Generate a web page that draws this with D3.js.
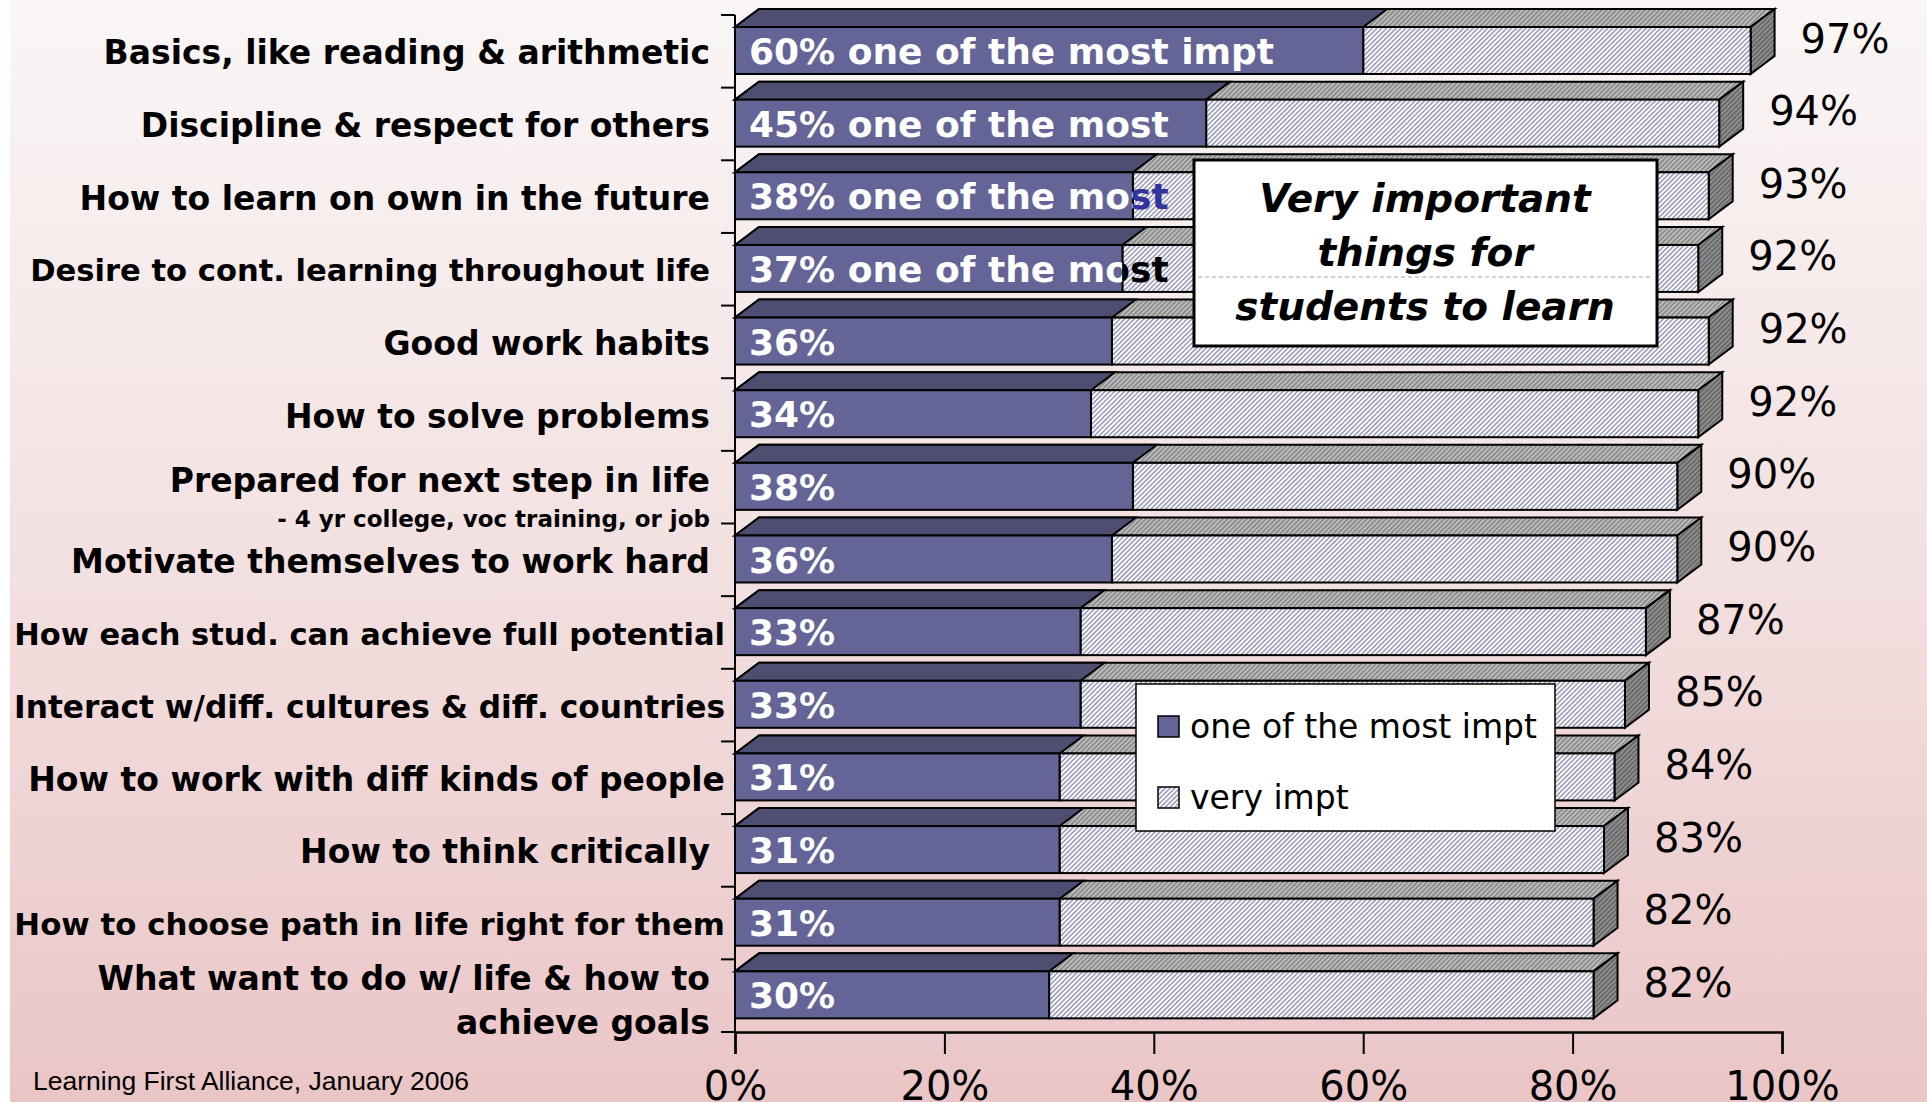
<!DOCTYPE html>
<html>
<head>
<meta charset="utf-8">
<script src="https://cdn.jsdelivr.net/npm/d3@7"></script>
<style>
  html, body { margin: 0; padding: 0; background: #fff; }
  svg { display: block; }
</style>
</head>
<body>
<svg id="chart"></svg>
<script>

// categories, top to bottom; "\n" splits a label over two lines
const categories = [
    "Basics, like reading & arithmetic",
    "Discipline & respect for others",
    "How to learn on own in the future",
    "Desire to cont. learning throughout life",
    "Good work habits",
    "How to solve problems",
    "Prepared for next step in life\n- 4 yr college, voc training, or job",
    "Motivate themselves to work hard",
    "How each stud. can achieve full potential",
    "Interact w/diff. cultures & diff. countries",
    "How to work with diff kinds of people",
    "How to think critically",
    "How to choose path in life right for them",
    "What want to do w/ life & how to\nachieve goals"
];

// "one of the most impt" share (dark part of the bar)
const mostImpt = [60, 45, 38, 37, 36, 34, 38, 36, 33, 33, 31, 31, 31, 30];

// total "very impt" (end of the bar)
const veryImpt = [97, 94, 93, 92, 93, 92, 90, 90, 87, 85, 84, 83, 82, 82];

// printed totals at the bar ends
const totalLabels = ["97%", "94%", "93%", "92%", "92%", "92%", "90%", "90%", "87%", "85%", "84%", "83%", "82%", "82%"];

// extra words written after the % inside the dark part
const barSuffix = ["one of the most impt", "one of the most", "one of the most", "one of the most",
    "", "", "", "", "", "", "", "", "", ""];

const xTicks = [0, 20, 40, 60, 80, 100];
const legendLabels = ["one of the most impt", "very impt"];
const titleLines = ["Very important", "things for", "students to learn"];
const source = "Learning First Alliance, January 2006";

let svgWidth = 1927;
let svgHeight = 1102;
let depthX = 24, depthY = 18;   // 3d offset of the bars
let faceTop = 12, faceH = 47;   // front face inside each band
let wideRows = new Set([8, 9, 10, 12]);   // these labels sit a bit further right

let svg = d3.select("#chart")
    .attr("width", svgWidth)
    .attr("height", svgHeight);

let defs = svg.append("defs");

let grad = defs.append("linearGradient")
    .attr("id", "bg")
    .attr("x1", 0).attr("y1", 0).attr("x2", 0).attr("y2", 1);
grad.append("stop").attr("offset", "0%").attr("stop-color", "#faf6f6");
grad.append("stop").attr("offset", "50%").attr("stop-color", "#f3e1e1");
grad.append("stop").attr("offset", "100%").attr("stop-color", "#eac5c6");

function hatch(id, bg, fg, w) {
    let p = defs.append("pattern")
        .attr("id", id)
        .attr("patternUnits", "userSpaceOnUse")
        .attr("width", 3.4).attr("height", 10)
        .attr("patternTransform", "rotate(45)");
    p.append("rect").attr("width", 3.4).attr("height", 10).attr("fill", bg);
    p.append("line")
        .attr("x1", 0.8).attr("y1", 0).attr("x2", 0.8).attr("y2", 10)
        .attr("stroke", fg).attr("stroke-width", w);
}
hatch("hFront", "#ffffff", "#8585ad", 1.3);
hatch("hTop", "#bdbdbd", "#7c7c7c", 1.3);
hatch("hSide", "#8f8f8f", "#5c5c5c", 1.3);

svg.append("rect")
    .attr("x", 10).attr("y", 0)
    .attr("width", svgWidth - 10).attr("height", svgHeight)
    .attr("fill", "url(#bg)");

let xScale = d3.scaleLinear().domain([0, 100]).range([735, 1782]);
let yScale = d3.scaleBand().domain(d3.range(categories.length)).range([15, 1032]);

let rows = categories.map((c, i) => ({
    i: i,
    label: c,
    most: mostImpt[i],
    total: veryImpt[i],
    totalLabel: totalLabels[i],
    text: mostImpt[i] + "%" + (barSuffix[i] ? " " + barSuffix[i] : "")
}));

function topFace(x0, x1, y) {
    return `M${x0},${y}L${x0 + depthX},${y - depthY}L${x1 + depthX},${y - depthY}L${x1},${y}Z`;
}
function sideFace(x1, y) {
    return `M${x1},${y}L${x1 + depthX},${y - depthY}L${x1 + depthX},${y + faceH - depthY}L${x1},${y + faceH}Z`;
}

let bars = svg.append("g").attr("class", "bars");

rows.forEach(d => {
    let g = bars.append("g");
    let y0 = yScale(d.i) + faceTop;
    let xa = xScale(0), xm = xScale(d.most), xt = xScale(d.total);

    g.append("path").attr("d", topFace(xa, xt, y0))
        .attr("fill", "url(#hTop)").attr("stroke", "#000").attr("stroke-width", 2);
    g.append("path").attr("d", topFace(xa, xm, y0))
        .attr("fill", "#4e4e72").attr("stroke", "#000").attr("stroke-width", 2);
    g.append("path").attr("d", sideFace(xt, y0))
        .attr("fill", "url(#hSide)").attr("stroke", "#000").attr("stroke-width", 2);
    g.append("rect")
        .attr("x", xm).attr("y", y0).attr("width", xt - xm).attr("height", faceH)
        .attr("fill", "url(#hFront)").attr("stroke", "#000").attr("stroke-width", 2);
    g.append("rect")
        .attr("x", xa).attr("y", y0).attr("width", xm - xa).attr("height", faceH)
        .attr("fill", "#646497").attr("stroke", "#000").attr("stroke-width", 2);

    // text inside the bar: white over the dark part, coloured where it runs past
    let clipIn = defs.append("clipPath").attr("id", "cin" + d.i);
    clipIn.append("rect").attr("x", xa).attr("y", y0).attr("width", xm - xa).attr("height", faceH);
    let clipOut = defs.append("clipPath").attr("id", "cout" + d.i);
    clipOut.append("rect").attr("x", xm).attr("y", y0).attr("width", svgWidth).attr("height", faceH);

    let overColor = d.i === 2 ? "#33339c" : "#000";
    [["cin", "#fff"], ["cout", overColor]].forEach(([c, col]) => {
        g.append("text")
            .attr("clip-path", `url(#${c}${d.i})`)
            .attr("x", xa + 14)
            .attr("y", y0 + faceH - 10)
            .attr("font-family", "'DejaVu Sans', sans-serif")
            .attr("font-weight", "bold")
            .attr("font-size", 36)
            .attr("fill", col)
            .text(d.text);
    });

    g.append("text")
        .attr("x", xt + depthX + 26)
        .attr("y", y0 + faceH / 2 + 2)
        .attr("font-family", "'DejaVu Sans', sans-serif")
        .attr("font-size", 40)
        .attr("fill", "#000")
        .text(d.totalLabel);
});

// category labels
let labels = svg.append("g").attr("class", "labels");
rows.forEach(d => {
    let cy = yScale(d.i) + faceTop + faceH / 2;
    let lines = d.label.split("\n");
    let anchorX = wideRows.has(d.i) ? 725 : 710;
    let room = wideRows.has(d.i) ? 711 : 680;
    let offsets = lines.length === 1 ? [2] : (lines[1].startsWith("-") ? [-6, 32] : [-17, 27]);
    lines.forEach((ln, k) => {
        let small = ln.startsWith("-");
        let size = small ? 23 : 33;
        let t = labels.append("text")
            .attr("x", anchorX)
            .attr("y", cy + offsets[k])
            .attr("dy", "0.36em")
            .attr("text-anchor", "end")
            .attr("font-family", "'DejaVu Sans', sans-serif")
            .attr("font-weight", "bold")
            .attr("font-size", size)
            .attr("fill", "#000")
            .text(ln);
        let w = t.node().getComputedTextLength();
        if (w > room) t.attr("font-size", size * room / w);
    });
});

// y axis with ticks on the band edges
let yAxis = svg.append("g").attr("class", "y axis");
yAxis.append("line")
    .attr("x1", xScale(0)).attr("x2", xScale(0))
    .attr("y1", yScale.range()[0]).attr("y2", yScale.range()[1])
    .attr("stroke", "#000").attr("stroke-width", 2);
yAxis.selectAll("line.tick")
    .data(d3.range(categories.length + 1))
    .join("line")
    .attr("class", "tick")
    .attr("x1", xScale(0) - 14).attr("x2", xScale(0))
    .attr("y1", i => yScale.range()[0] + i * yScale.step())
    .attr("y2", i => yScale.range()[0] + i * yScale.step())
    .attr("stroke", "#000").attr("stroke-width", 2);

// x axis
let xAxis = svg.append("g")
    .attr("class", "x axis")
    .attr("transform", `translate(0,${yScale.range()[1]})`)
    .call(d3.axisBottom(xScale)
        .tickValues(xTicks)
        .tickFormat(v => v + "%")
        .tickSizeOuter(0)
        .tickSize(22)
        .tickPadding(18));
xAxis.select(".domain").attr("stroke", "#000").attr("stroke-width", 2.5);
xAxis.selectAll(".tick line").attr("stroke", "#000").attr("stroke-width", 2);
xAxis.selectAll(".tick text")
    .attr("font-family", "'DejaVu Sans', sans-serif")
    .attr("font-size", 40)
    .attr("fill", "#000");

// title box
let tb = svg.append("g").attr("class", "title");
tb.append("rect")
    .attr("x", 1194).attr("y", 160).attr("width", 463).attr("height", 186)
    .attr("fill", "#fff").attr("stroke", "#000").attr("stroke-width", 3);
tb.append("line")
    .attr("x1", 1198).attr("x2", 1653).attr("y1", 277).attr("y2", 277)
    .attr("stroke", "#a0a0c0").attr("stroke-width", 1).attr("stroke-dasharray", "4,3");
tb.selectAll("text")
    .data(titleLines)
    .join("text")
    .attr("x", 1425)
    .attr("y", (d, i) => 212 + i * 54)
    .attr("text-anchor", "middle")
    .attr("font-family", "'DejaVu Sans', sans-serif")
    .attr("font-weight", "bold")
    .attr("font-style", "italic")
    .attr("font-size", 39)
    .attr("fill", "#000")
    .text(d => d);

// legend
let lg = svg.append("g").attr("class", "legend");
lg.append("rect")
    .attr("x", 1136).attr("y", 684).attr("width", 419).attr("height", 147)
    .attr("fill", "#fff").attr("stroke", "#000").attr("stroke-width", 1.5);
let swatches = ["#646497", "url(#hFront)"];
legendLabels.forEach((l, i) => {
    let yy = 716 + i * 71;
    lg.append("rect")
        .attr("x", 1158).attr("y", yy).attr("width", 21).attr("height", 21)
        .attr("fill", swatches[i]).attr("stroke", "#000").attr("stroke-width", 1.5);
    lg.append("text")
        .attr("x", 1190).attr("y", yy + 22)
        .attr("font-family", "'DejaVu Sans', sans-serif")
        .attr("font-size", 33)
        .attr("fill", "#000")
        .text(l);
});

// source note
svg.append("text")
    .attr("x", 33).attr("y", 1090)
    .attr("font-family", "'Liberation Sans', Arial, sans-serif")
    .attr("font-size", 26.5)
    .attr("fill", "#000")
    .text(source);

</script>
</body>
</html>
